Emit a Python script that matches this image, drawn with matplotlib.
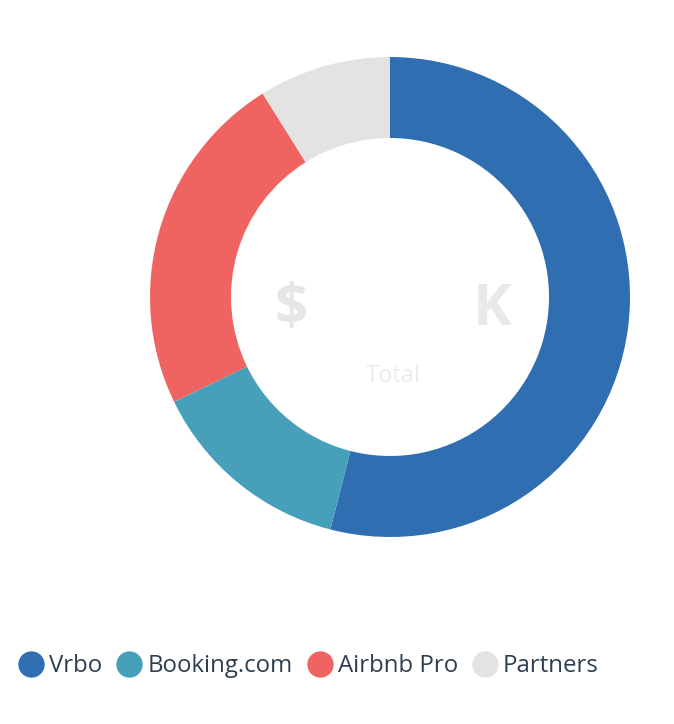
import matplotlib
matplotlib.use("Agg")
import matplotlib.pyplot as plt

# data (share of total, %)
channels = ["Vrbo", "Booking.com", "Airbnb Pro", "Partners"]
shares = [54.0, 13.8, 23.3, 8.9]
colors = ["#2f6eb0", "#46a0ba", "#ef6461", "#e3e3e3"]

plt.rcParams['font.family'] = ['Open Sans', 'DejaVu Sans']

W, H = 674, 724
fig = plt.figure(figsize=(W / 100, H / 100), dpi=100)
ax = fig.add_axes([0, 0, 1, 1])
ax.set_xlim(0, W)
ax.set_ylim(0, H)
ax.set_aspect("equal")
ax.axis("off")

cx, cy = 390, H - 297
r_out = 240
ax.pie(shares, colors=colors, startangle=90, counterclock=False,
       radius=r_out, center=(cx, cy), frame=False,
       wedgeprops=dict(width=r_out - 159, linewidth=0))
ax.set_xlim(0, W)
ax.set_ylim(0, H)

# faded centre label
ax.text(291, H - 310, "$", fontsize=42, fontweight="bold", color="#e4e6e8",
        ha="center", va="center")
ax.text(492, H - 310, "K", fontsize=42, fontweight="bold", color="#e8e9ea",
        ha="center", va="center")
ax.text(393, H - 376, "Total", fontsize=17, color="#ececec",
        ha="center", va="center")

# legend row
fig.canvas.draw()
renderer = fig.canvas.get_renderer()
x = 31
ly = H - 664
for name, c in zip(channels, colors):
    ax.scatter([x], [ly], s=360, color=c, linewidths=0)
    t = ax.text(x + 18, H - 672, name, fontsize=17.3, color="#2d3e50",
                ha="left", va="baseline")
    bb = t.get_window_extent(renderer)
    x = bb.x1 + 27

fig.savefig("out.png", dpi=100)
